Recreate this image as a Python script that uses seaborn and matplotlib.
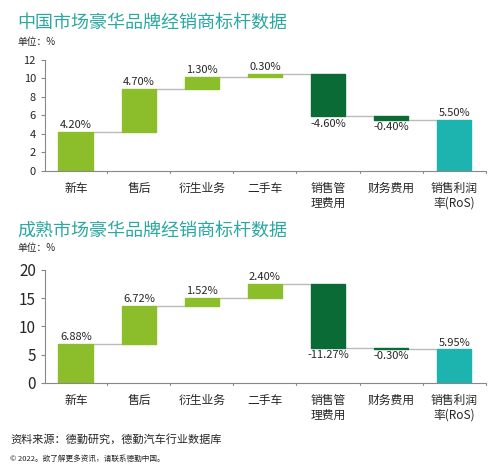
import matplotlib
matplotlib.use("Agg")
import matplotlib.pyplot as plt
import seaborn as sns
import numpy as np
import pandas as pd

sns.set_style("white")
plt.rcParams['font.family'] = ['Noto Sans CJK SC', 'DejaVu Sans']

categories = ["新车", "售后", "衍生业务", "二手车", "销售管\n理费用", "财务费用", "销售利润\n率(RoS)"]
china_vals = [4.20, 4.70, 1.30, 0.30, -4.60, -0.40, 5.50]
mature_vals = [6.88, 6.72, 1.52, 2.40, -11.27, -0.30, 5.95]
LIGHT, DARK, TEAL = "#8CBD2B", "#0B6B37", "#1DB3AF"

def waterfall(ax, vals, ylim, step, bigticks):
    vals = np.array(vals)
    n = len(vals)
    cum = np.concatenate([[0], np.cumsum(vals[:-1])])
    bottoms = np.where(vals >= 0, cum, cum + vals)
    bottoms[-1] = 0
    heights = np.abs(vals)
    colors = [LIGHT if v >= 0 else DARK for v in vals]
    colors[-1] = TEAL
    df = pd.DataFrame({"cat": categories, "h": heights})
    sns.barplot(data=df, x="cat", y="h", color=LIGHT, ax=ax, width=0.55,
                bottom=bottoms, saturation=1, errorbar=None)
    for p, c in zip(ax.patches, colors):
        p.set_facecolor(c); p.set_edgecolor(c)
    tops = cum + vals
    for i in range(n - 1):
        lvl = tops[i]
        ax.plot([i + 0.275, i + 1 - 0.275], [lvl, lvl], color="#BBBBBB", lw=1, zorder=0)
    for i, v in enumerate(vals):
        if v >= 0:
            ax.text(i, bottoms[i] + heights[i] + ylim * 0.015, f"{v:.2f}%", ha="center", va="bottom", fontsize=8)
        else:
            ax.text(i, bottoms[i] - ylim * 0.02, f"{v:.2f}%", ha="center", va="top", fontsize=8)
    ax.set_ylim(0, ylim)
    ax.set_xlim(-0.49, n - 0.51)
    ax.set_yticks(np.arange(0, ylim + 0.1, step))
    ax.set_xlabel(""); ax.set_ylabel("")
    ax.set_xticks(range(n))
    ax.set_xticklabels(categories, fontsize=8.5)
    ax.tick_params(axis="x", length=0, pad=8)
    ax.tick_params(axis="y", length=3, labelsize=11 if bigticks else 8, left=True, color="#888888")
    for i in range(n):
        ax.plot([i + 0.5, i + 0.5], [0, -ylim * 0.02], color="#888888", lw=0.8, clip_on=False)
    sns.despine(ax=ax)
    for s in ["left", "bottom"]:
        ax.spines[s].set_color("#888888"); ax.spines[s].set_linewidth(0.8)

fig = plt.figure(figsize=(4.99, 4.72), dpi=100)
ax1 = fig.add_axes([0.09, 0.638, 0.882, 0.235])
ax2 = fig.add_axes([0.09, 0.189, 0.882, 0.239])
waterfall(ax1, china_vals, 12, 2, False)
waterfall(ax2, mature_vals, 20, 5, True)

title_c = "#2BA8A2"
fig.text(0.035, 0.953, "中国市场豪华品牌经销商标杆数据", fontsize=13, color=title_c, va="center")
fig.text(0.035, 0.912, "单位：%", fontsize=7, va="center")
fig.text(0.035, 0.511, "成熟市场豪华品牌经销商标杆数据", fontsize=13, color=title_c, va="center")
fig.text(0.035, 0.475, "单位：%", fontsize=7, va="center")
fig.text(0.02, 0.07, "资料来源：德勤研究，德勤汽车行业数据库", fontsize=8, va="center")
fig.text(0.02, 0.027, "© 2022。欲了解更多资讯，请联系德勤中国。", fontsize=5.5, va="center")
fig.savefig("out.png", dpi=100)
